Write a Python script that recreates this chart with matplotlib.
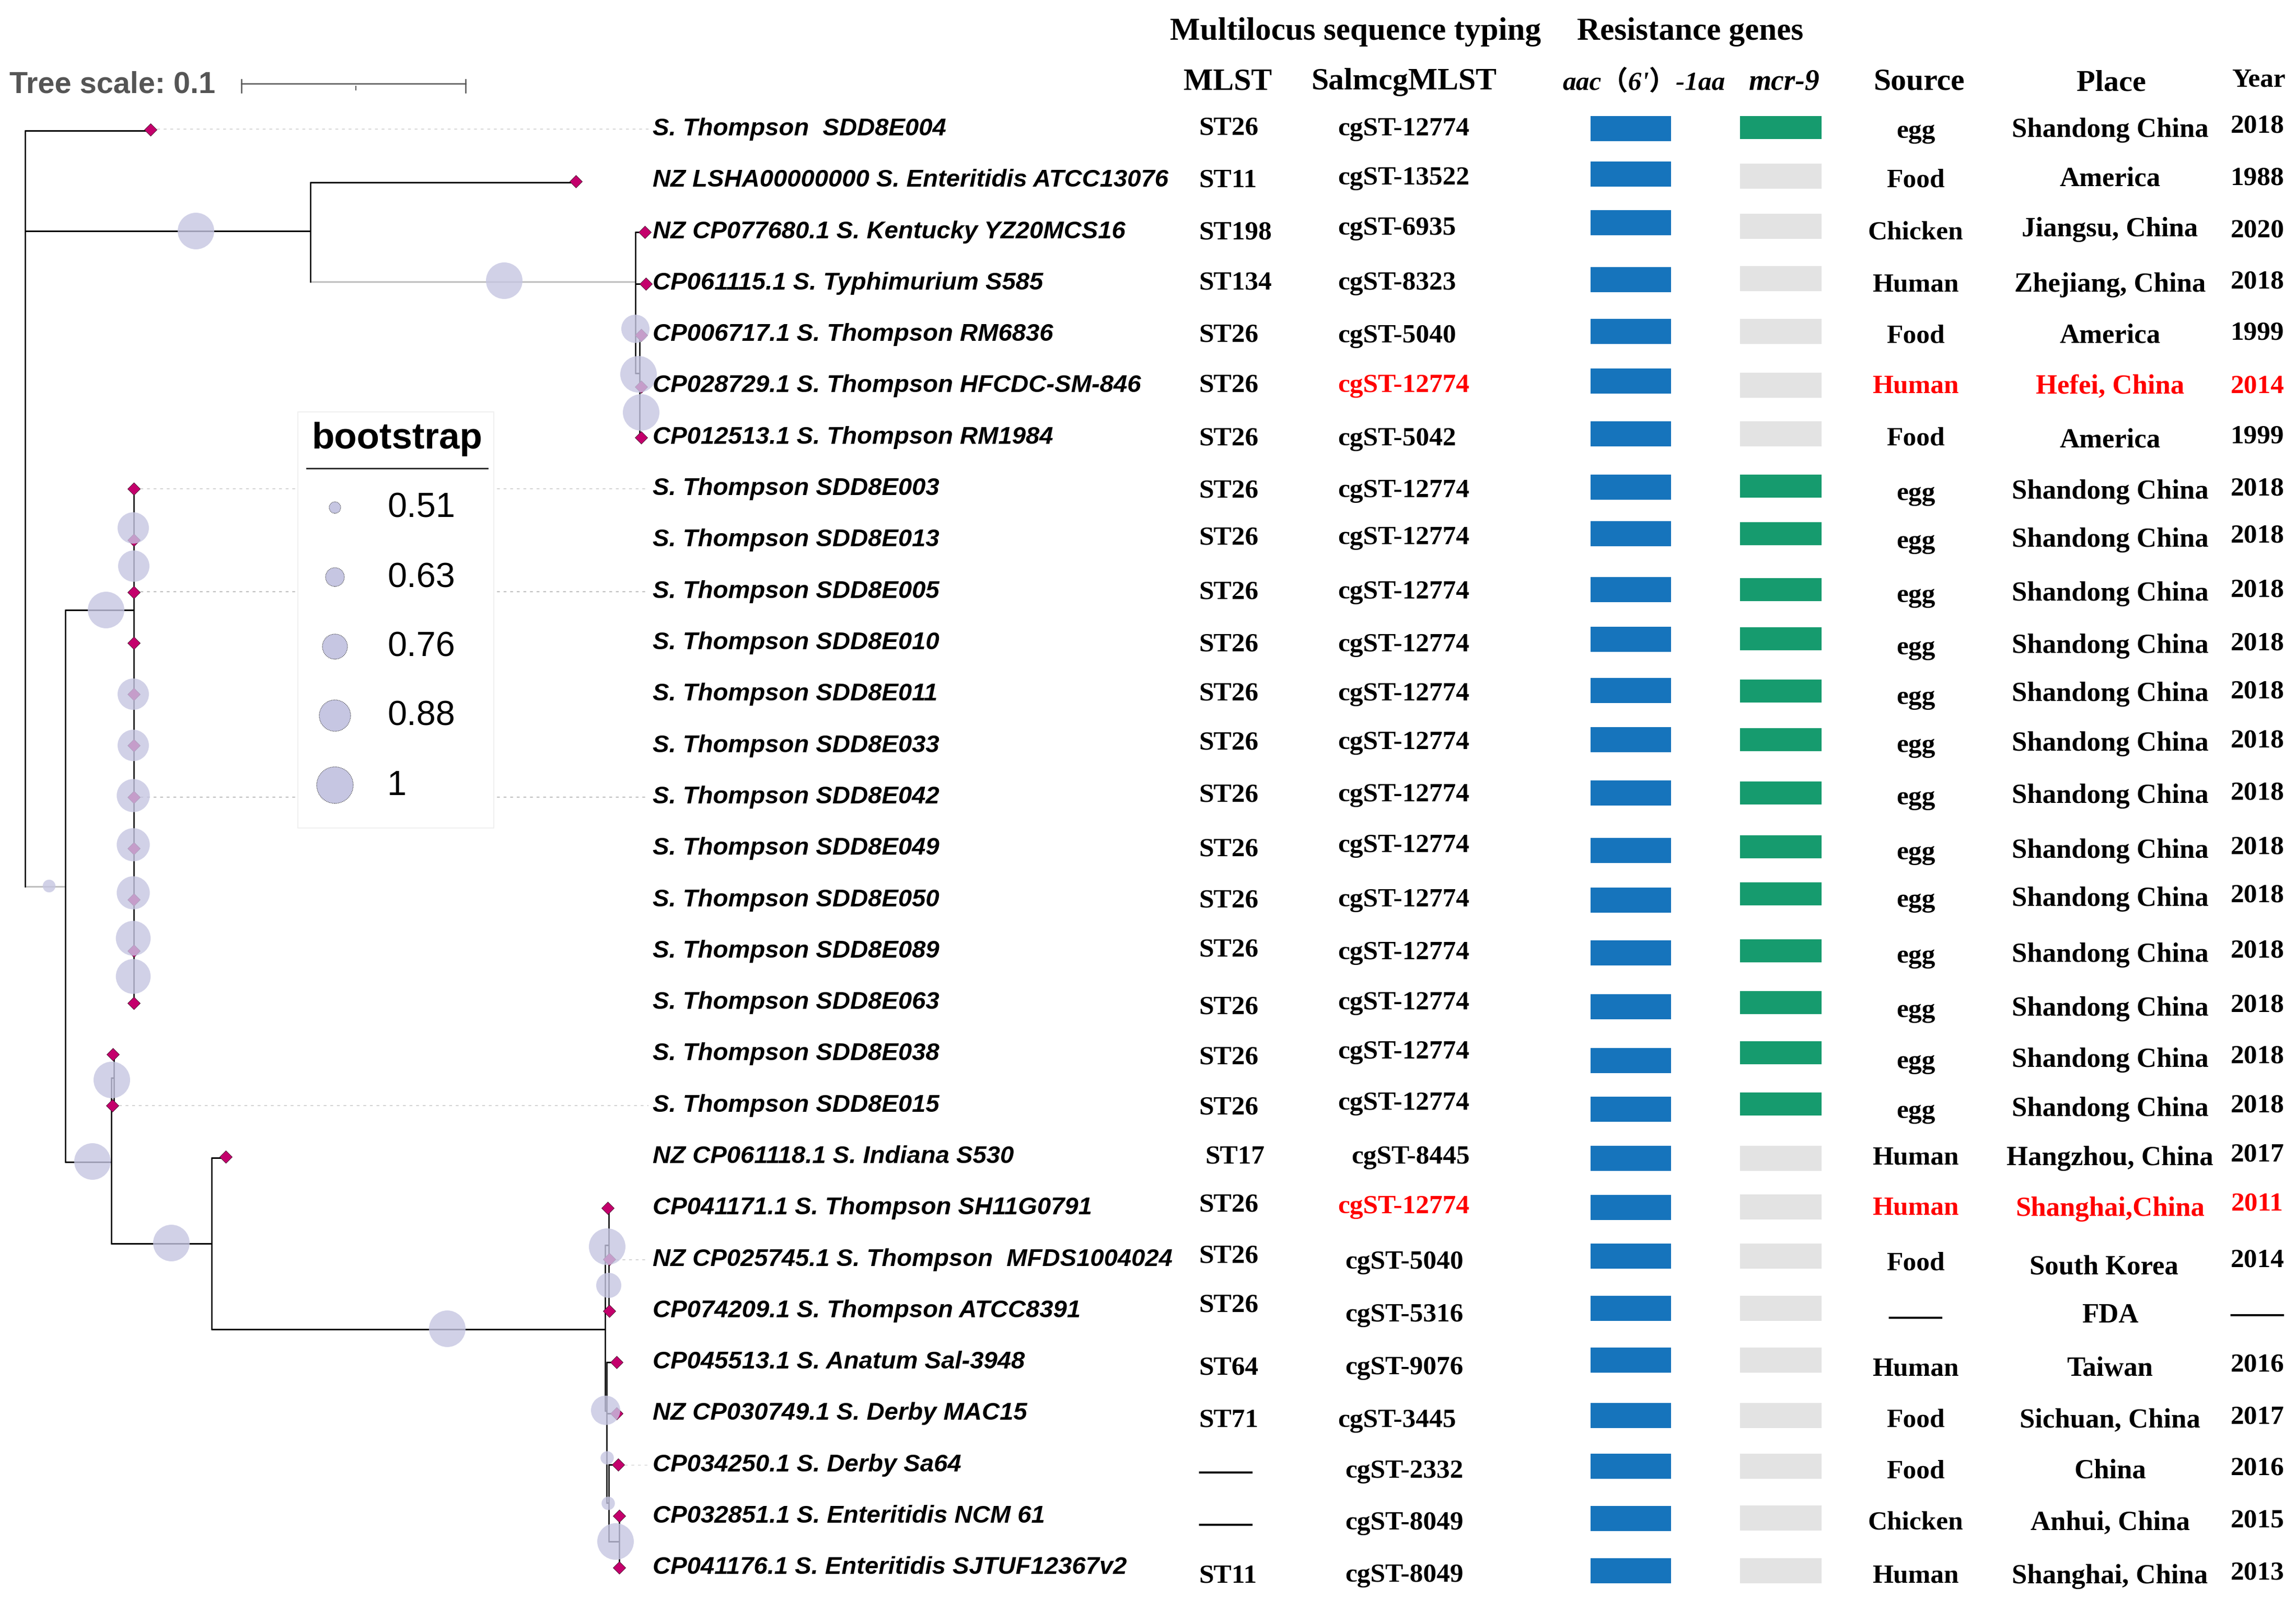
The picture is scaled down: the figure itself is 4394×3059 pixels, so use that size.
import numpy as np
from matplotlib import pyplot as plt

# Table contents, one entry per row
labels = ['S. Thompson  SDD8E004', 'NZ LSHA00000000 S. Enteritidis ATCC13076',
          'NZ CP077680.1 S. Kentucky YZ20MCS16', 'CP061115.1 S. Typhimurium S585',
          'CP006717.1 S. Thompson RM6836', 'CP028729.1 S. Thompson HFCDC-SM-846',
          'CP012513.1 S. Thompson RM1984', 'S. Thompson SDD8E003', 'S. Thompson SDD8E013',
          'S. Thompson SDD8E005', 'S. Thompson SDD8E010', 'S. Thompson SDD8E011',
          'S. Thompson SDD8E033', 'S. Thompson SDD8E042', 'S. Thompson SDD8E049',
          'S. Thompson SDD8E050', 'S. Thompson SDD8E089', 'S. Thompson SDD8E063',
          'S. Thompson SDD8E038', 'S. Thompson SDD8E015', 'NZ CP061118.1 S. Indiana S530',
          'CP041171.1 S. Thompson SH11G0791', 'NZ CP025745.1 S. Thompson  MFDS1004024',
          'CP074209.1 S. Thompson ATCC8391', 'CP045513.1 S. Anatum Sal-3948',
          'NZ CP030749.1 S. Derby MAC15', 'CP034250.1 S. Derby Sa64',
          'CP032851.1 S. Enteritidis NCM 61', 'CP041176.1 S. Enteritidis SJTUF12367v2']
mlst = ['ST26', 'ST11', 'ST198', 'ST134', 'ST26', 'ST26', 'ST26'] + ['ST26'] * 13 + \
       ['ST17', 'ST26', 'ST26', 'ST26', 'ST64', 'ST71', '——', '——', 'ST11']
cgmlst = ['cgST-12774', 'cgST-13522', 'cgST-6935', 'cgST-8323', 'cgST-5040', 'cgST-12774',
          'cgST-5042'] + ['cgST-12774'] * 13 + \
         ['cgST-8445', 'cgST-12774', 'cgST-5040', 'cgST-5316', 'cgST-9076', 'cgST-3445',
          'cgST-2332', 'cgST-8049', 'cgST-8049']
source = ['egg', 'Food', 'Chicken', 'Human', 'Food', 'Human', 'Food'] + ['egg'] * 13 + \
         ['Human', 'Human', 'Food', '——', 'Human', 'Food', 'Food', 'Chicken', 'Human']
place = ['Shandong China', 'America', 'Jiangsu, China', 'Zhejiang, China', 'America',
         'Hefei, China', 'America'] + ['Shandong China'] * 13 + \
        ['Hangzhou, China', 'Shanghai,China', 'South Korea', 'FDA', 'Taiwan', 'Sichuan, China',
         'China', 'Anhui, China', 'Shanghai, China']
year = ['2018', '1988', '2020', '2018', '1999', '2014', '1999'] + ['2018'] * 13 + \
       ['2017', '2011', '2014', '——', '2016', '2017', '2016', '2015', '2013']
has_mcr9 = [1, 0, 0, 0, 0, 0, 0] + [1] * 13 + [0] * 9
red_rows = [5, 21]

# Vertical place of each table cell, the original columns are not quite level
label_y = 247 + 98.3 * np.arange(29)
mlst_y = [241, 342, 442, 538, 638, 733, 836, 935, 1025, 1129, 1230, 1324, 1417, 1517, 1621,
          1719, 1813, 1924, 2020, 2116, 2209, 2302, 2399, 2493, 2613, 2713, 2813, 2913, 3011]
cgmlst_y = [243, 337, 433, 538, 639, 734, 836, 935, 1025, 1129, 1230, 1324, 1417, 1517, 1614,
            1718, 1819, 1915, 2009, 2107, 2210, 2305, 2411, 2512, 2613, 2714, 2811, 2910, 3010]
aac_y = [246, 333, 426, 535, 634, 729, 830, 932, 1021, 1128, 1223, 1321, 1415, 1517, 1627,
         1722, 1823, 1926, 2029, 2122, 2216, 2310, 2403, 2503, 2602, 2708, 2805, 2905, 3005]
mcr_y = [244, 337, 433, 533, 634, 737, 830, 930, 1021, 1128, 1222, 1322, 1415, 1517, 1620,
         1710, 1819, 1918, 2014, 2112, 2216, 2309, 2403, 2503, 2602, 2708, 2805, 2904, 3005]
source_y = [248, 342, 442, 541, 639, 736, 836, 941, 1033, 1136, 1236, 1331, 1423, 1523, 1628,
            1719, 1826, 1930, 2028, 2123, 2212, 2307, 2414, 2517, 2615, 2714, 2811, 2910, 3011]
place_y = [245, 338, 435, 541, 639, 736, 838, 937, 1029, 1132, 1232, 1324, 1419, 1519, 1624,
           1716, 1823, 1926, 2024, 2118, 2212, 2309, 2421, 2513, 2615, 2714, 2811, 2910, 3012]
year_y = [237, 337, 437, 536, 634, 736, 832, 932, 1022, 1126, 1227, 1320, 1413, 1513, 1617,
          1710, 1816, 1920, 2018, 2111, 2205, 2299, 2408, 2512, 2608, 2708, 2805, 2905, 3006]
text_shift = 4

# Tree branches: (y, x from, x to) and (x, y from, y to)
h_branches = [(250, 48, 288), (349, 594, 1102), (442, 48, 594), (444, 1216, 1234),
              (543, 1216, 1236), (714, 1216, 1224), (1167, 125, 256), (2062, 213, 218),
              (2223, 125, 213), (2215, 405, 432), (2379, 213, 405), (2543, 405, 1158),
              (2382, 1158, 1165), (2606, 1161, 1180), (2699, 1158, 1161), (2704, 1161, 1180),
              (2802, 1165, 1183), (2875, 1161, 1165), (2949, 1165, 1185)]
h_faint = [(539, 594, 1216), (1696, 48, 125)]
v_branches = [(48, 250, 1696), (594, 349, 539), (1216, 444, 714), (1224, 641, 837),
              (256, 935, 1919), (125, 1167, 2223), (218, 2017, 2115), (213, 2062, 2379),
              (405, 2215, 2543), (1158, 2382, 2699), (1165, 2311, 2508), (1161, 2606, 2875),
              (1165, 2802, 2949), (1185, 2900, 2999)]
tip_x = [288, 1102, 1234, 1236, 1227, 1227, 1227, 256, 256, 256, 256, 256, 256, 256, 256, 256,
         256, 256, 216, 215, 432, 1163, 1166, 1166, 1180, 1180, 1183, 1185, 1185]
tip_y = [248, 347, 444, 543, 641, 740, 837, 935, 1033, 1133, 1230, 1328, 1426, 1525, 1623, 1721,
         1819, 1919, 2017, 2115, 2213, 2311, 2409, 2508, 2606, 2704, 2802, 2900, 2999]
leader_rows = [0, 7, 9, 13, 19, 22, 26]
leader_grey = ['#d4d4d4', '#d0d0d0', '#b8b8b8', '#b8b8b8', '#d0d0d0', '#d0d0d0', '#dddddd']

# Internal nodes with their bootstrap support
node_x = [375, 965, 1216, 1222, 1227, 94, 255, 256, 203, 255, 255, 255, 255, 255, 255, 255,
          214, 177, 328, 856, 1162, 1165, 1159, 1162, 1164, 1178]
node_y = [442, 537, 629, 716, 789, 1695, 1010, 1083, 1167, 1328, 1426, 1522, 1616, 1708, 1795,
          1868, 2066, 2222, 2378, 2542, 2385, 2459, 2698, 2789, 2876, 2949]
node_support = [1, 1, 0.82, 1, 1, 0.53, 0.88, 0.88, 1, 0.88, 0.88, 0.92, 0.92, 0.92, 0.96,
                0.96, 1, 1, 1, 1, 1, 0.76, 0.84, 0.54, 0.54, 1]

legend_values = [0.51, 0.63, 0.76, 0.88, 1]
legend_names = ['0.51', '0.63', '0.76', '0.88', '1']
legend_radius = [11, 18, 24, 30, 35]
legend_y = [971, 1104, 1237, 1369, 1502]

SERIF = 'Liberation Serif'
SANS = 'Liberation Sans'
BLUE = '#1674bc'
GREEN = '#169b6e'
GREY = '#e3e3e3'
NODE = '#c6c6e2'


def dot_size(radius):
    # scatter wants the area in points, the axes run in pixels at dpi 100
    return (2 * np.asarray(radius) * 0.72) ** 2


def draw_tree(ax):
    for y, x0, x1 in h_branches:
        ax.plot([x0, x1], [y, y], color='black', lw=2.1, solid_capstyle='butt', zorder=1)
    for y, x0, x1 in h_faint:
        ax.plot([x0, x1], [y, y], color='#bdbdbd', lw=2.1, solid_capstyle='butt', zorder=1)
    for x, y0, y1 in v_branches:
        ax.plot([x, x], [y0, y1], color='black', lw=1.8, solid_capstyle='projecting', zorder=1)
    for row, grey in zip(leader_rows, leader_grey):
        ax.plot([tip_x[row], 1241], [label_y[row], label_y[row]], color=grey, lw=1.3,
                dashes=(3, 4), zorder=1)
    ax.plot(tip_x, tip_y, ls='none', marker='D', ms=12.5, mfc='#c4006c', mec='#3a0a25', mew=0.6,
            zorder=2)
    radius = np.interp(node_support, legend_values, legend_radius)
    ax.scatter(node_x, node_y, s=dot_size(radius), color=NODE, alpha=0.8, linewidths=0, zorder=3)


def draw_scale(ax):
    ax.text(18, 163, 'Tree scale: 0.1', family=SANS, weight='bold', fontsize=41.5, color='#555555',
            va='center', ha='left')
    ax.plot([462, 891], [160, 160], color='#555555', lw=1.8)
    ax.plot([462, 462], [152, 177], color='#555555', lw=1.8)
    ax.plot([891, 891], [152, 177], color='#555555', lw=1.8)
    ax.plot([681, 681], [165, 172], color='#555555', lw=1.4)


def draw_legend(ax):
    ax.fill_between([570, 945], 788, 1584, facecolor='white', edgecolor='#f0f0f0', lw=1.5, zorder=4)
    ax.text(760, 840, 'bootstrap', family=SANS, weight='bold', fontsize=51, ha='center', va='center',
            zorder=5)
    ax.plot([587, 933], [896, 896], color='#222222', lw=2, zorder=5)
    ax.scatter([641] * 5, legend_y, s=dot_size(legend_radius), facecolor=NODE, edgecolor='black',
               linewidths=0.8, linestyle=':', zorder=5)
    for name, y in zip(legend_names, legend_y):
        ax.text(741, y + 2, name, family=SANS, fontsize=48, ha='left', va='center', zorder=5)


def draw_table(ax):
    for i in range(29):
        colour = 'red' if i in red_rows else 'black'
        ax.text(1249, label_y[i], labels[i], family=SANS, weight='bold', style='italic', fontsize=34,
                ha='left', va='center')
        mlst_x = 2306 if mlst[i] == 'ST17' else 2294
        ax.text(mlst_x, mlst_y[i] + text_shift, mlst[i], family=SERIF, weight='bold', fontsize=37,
                ha='left', va='center')
        cg_x = 2560
        if i == 20:
            cg_x = 2586
        elif i in [22, 23, 24, 26, 27, 28]:
            cg_x = 2574
        ax.text(cg_x, cgmlst_y[i] + text_shift, cgmlst[i], family=SERIF, weight='bold', fontsize=37,
                ha='left', va='center', color=colour)
        ax.text(3666, source_y[i] + text_shift, source[i], family=SERIF, weight='bold', fontsize=37,
                ha='center', va='center', color=colour)
        place_x = 4026 if place[i] == 'South Korea' else 4038
        ax.text(place_x, place_y[i] + text_shift, place[i], family=SERIF, weight='bold', fontsize=38,
                ha='center', va='center', color=colour)
        ax.text(4320, year_y[i] + text_shift, year[i], family=SERIF, weight='bold', fontsize=37,
                ha='center', va='center', color=colour)

    ax.barh(aac_y, 154, left=3044, height=48, color=BLUE)
    mcr_colours = [GREEN if flag else GREY for flag in has_mcr9]
    ax.barh(mcr_y, 156, left=3330, height=[44 if flag else 48 for flag in has_mcr9], color=mcr_colours)


def draw_headers(ax):
    ax.text(2239, 61, 'Multilocus sequence typing', family=SERIF, weight='bold', fontsize=44,
            ha='left', va='center')
    ax.text(3018, 61, 'Resistance genes', family=SERIF, weight='bold', fontsize=44, ha='left',
            va='center')
    ax.text(2350, 157, 'MLST', family=SERIF, weight='bold', fontsize=43, ha='center', va='center')
    ax.text(2687, 157, 'SalmcgMLST', family=SERIF, weight='bold', fontsize=43, ha='center', va='center')
    ax.text(2990, 158, "aac（6'）-1aa", family=[SERIF, 'Noto Sans CJK SC'], weight='bold',
            style='italic', fontsize=37, ha='left', va='center')
    ax.text(3415, 158, 'mcr-9', family=SERIF, weight='bold', style='italic', fontsize=40, ha='center',
            va='center')
    ax.text(3673, 158, 'Source', family=SERIF, weight='bold', fontsize=43, ha='center', va='center')
    ax.text(4040, 159, 'Place', family=SERIF, weight='bold', fontsize=42, ha='center', va='center')
    ax.text(4322, 154, 'Year', family=SERIF, weight='bold', fontsize=37, ha='center', va='center')


def main():
    fig = plt.figure(figsize=(43.94, 30.59), dpi=100)
    ax = fig.add_axes([0, 0, 1, 1])
    ax.set_xlim(0, 4394)
    ax.set_ylim(3059, 0)
    ax.axis('off')
    draw_tree(ax)
    draw_scale(ax)
    draw_legend(ax)
    draw_table(ax)
    draw_headers(ax)
    fig.savefig('out.png', dpi=100, facecolor='white')


if __name__ == '__main__':
    main()
